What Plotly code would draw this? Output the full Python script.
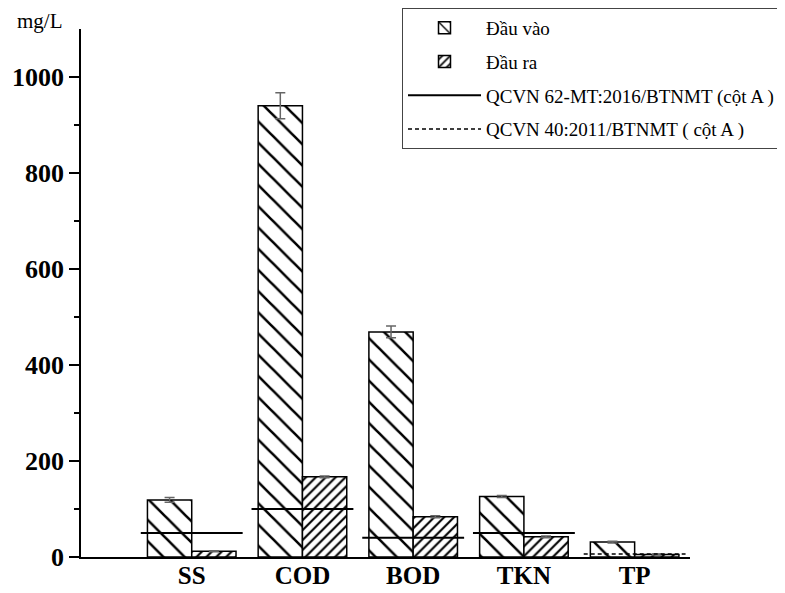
import plotly.graph_objects as go

categories = ["SS", "COD", "BOD", "TKN", "TP"]
dau_vao = [119, 940, 469, 126, 31]
dau_vao_err = [5, 27, 12, 2, 2]
dau_ra = [12, 167, 84, 42, 5]
dau_ra_err = [1, 2, 2, 2, 1]
qcvn62 = [50, 100, 40, 50, None]
qcvn40 = [None, None, None, None, 6]

FONT = "Liberation Serif"
idx = list(range(len(categories)))


def segments(values, half=0.46):
    xs, ys = [], []
    for i, v in zip(idx, values):
        if v is None:
            continue
        xs += [i - half, i + half, None]
        ys += [v, v, None]
    return xs, ys


fig = go.Figure()
fig.add_trace(go.Bar(
    x=idx, y=dau_vao, name="Đầu vào", width=0.4, offset=-0.4,
    marker=dict(color="white", line=dict(color="black", width=1.5),
                pattern=dict(shape="\\", size=15, solidity=0.17, fgcolor="black", bgcolor="white", fgopacity=1)),
    error_y=dict(type="data", array=dau_vao_err, color="#666666", thickness=1.5, width=5),
    legendgroup="a",
))
fig.add_trace(go.Bar(
    x=idx, y=dau_ra, name="Đầu ra", width=0.4, offset=0,
    marker=dict(color="white", line=dict(color="black", width=1.5),
                pattern=dict(shape="/", size=7, solidity=0.3, fgcolor="black", bgcolor="white", fgopacity=1)),
    error_y=dict(type="data", array=dau_ra_err, color="#666666", thickness=1.5, width=5),
    legendgroup="b",
))
x62, y62 = segments(qcvn62)
fig.add_trace(go.Scatter(
    x=x62, y=y62, mode="lines", name="QCVN 62-MT:2016/BTNMT (cột A )\u00a0",
    line=dict(color="black", width=2), legendgroup="c",
))
x40, y40 = segments(qcvn40)
fig.add_trace(go.Scatter(
    x=x40, y=y40, mode="lines", name="QCVN 40:2011/BTNMT ( cột A )",
    line=dict(color="black", width=1.5, dash="4px,3px"), legendgroup="d",
))

fig.update_layout(
    width=777, height=585,
    margin=dict(l=73, r=95, t=21, b=36, autoexpand=False),
    paper_bgcolor="white", plot_bgcolor="white",
    font=dict(family=FONT, color="black"),
    barmode="overlay",
    hovermode=False,
    legend=dict(
        xref="container", yref="container", x=1, y=1,
        xanchor="right", yanchor="top",
        bordercolor="#444444", borderwidth=1, bgcolor="white",
        font=dict(family=FONT, size=19, color="black"),
        tracegroupgap=6, itemwidth=73,
    ),
    xaxis=dict(
        range=[-1, 4.5], tickmode="array", tickvals=idx, ticktext=categories,
        showline=True, linecolor="black", linewidth=1.5, ticks="", ticklen=0,
        ticklabelstandoff=-5,
        showgrid=False, zeroline=False,
        tickfont=dict(family=FONT, size=25, weight="bold", color="black"),
    ),
    yaxis=dict(
        range=[0, 1100], tickvals=[0, 200, 400, 600, 800, 1000],
        showline=True, linecolor="black", linewidth=1.5,
        ticks="outside", ticklen=10, tickwidth=1.5, tickcolor="black",
        minor=dict(tickvals=[100, 300, 500, 700, 900], ticks="outside", ticklen=5, tickwidth=1.5, tickcolor="black"),
        showgrid=False, zeroline=False,
        tickfont=dict(family=FONT, size=26, weight="bold", color="black"),
    ),
    annotations=[dict(
        text="mg/L", xref="paper", yref="paper", x=0, y=1,
        xanchor="right", yanchor="middle", xshift=-16, yshift=8,
        showarrow=False, font=dict(family=FONT, size=21, color="black"),
    )],
)

fig.write_html("out.html")
